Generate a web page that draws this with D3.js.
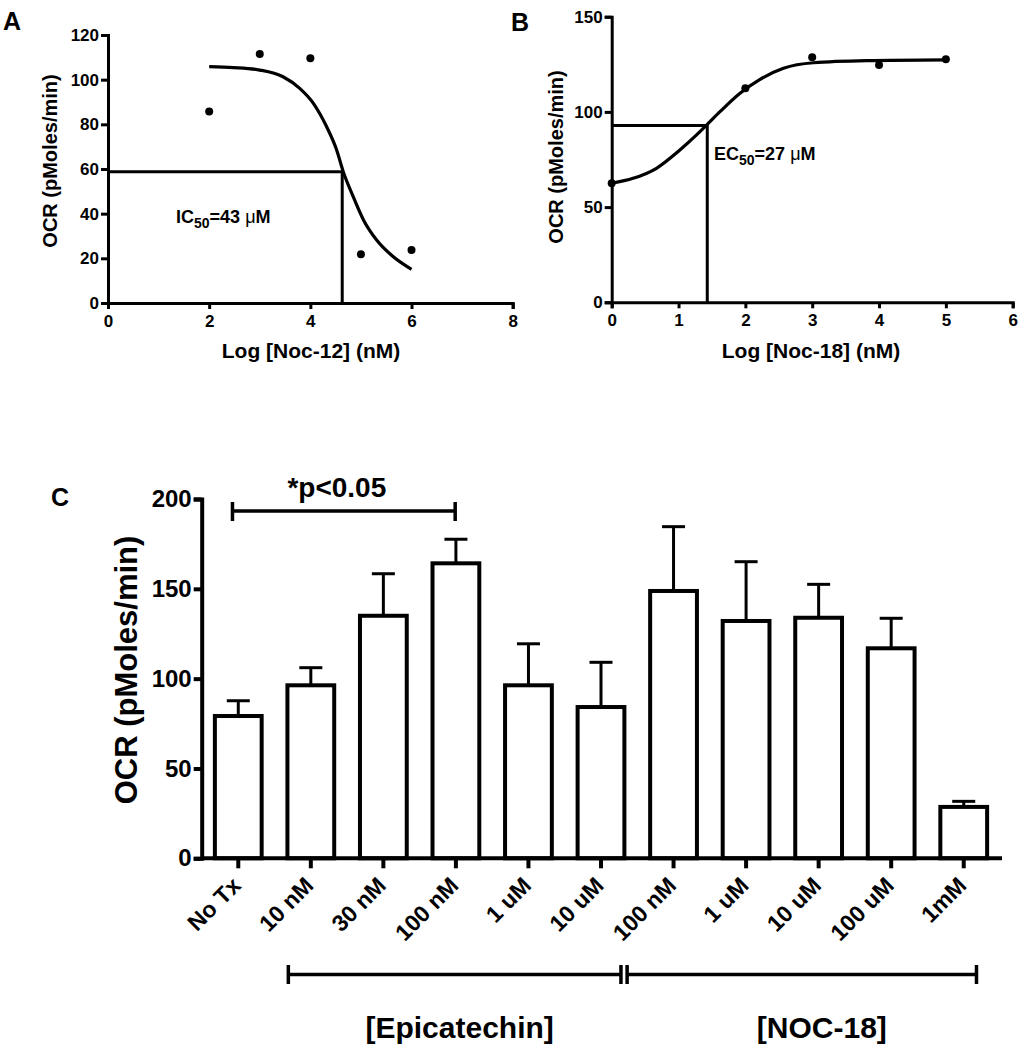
<!DOCTYPE html>
<html><head><meta charset="utf-8">
<script src="https://cdn.jsdelivr.net/npm/d3@7"></script>
<style>
body{margin:0;background:#fff}
text{font-family:"Liberation Sans",Arial,Helvetica,sans-serif;font-weight:bold;fill:#000}
</style>
</head><body>
<svg id="chart" width="1018" height="1050"></svg>
<script>
// ---------- Panel A data (Noc-12) ----------
const aDoseLog = [2, 3, 4, 5, 6];
const aOCR = [85.7, 111.5, 109.6, 21.8, 23.7];
const aFitX = [2.0, 2.48, 3.0, 3.46, 3.79, 4.06, 4.32, 4.52, 4.65, 4.82, 5.05, 5.31, 5.64, 6.0];
const aFitY = [105.8, 105.4, 104.3, 101.3, 96.1, 89.4, 79.0, 68.5, 58.8, 49.1, 37.2, 28.2, 20.7, 15.1];
const aIC50 = [4.63, 58.8];
const aXTicks = [0, 2, 4, 6, 8];
const aYTicks = [0, 20, 40, 60, 80, 100, 120];

// ---------- Panel B data (Noc-18) ----------
const bDoseLog = [0, 2, 3, 4, 5];
const bOCR = [62.5, 112.4, 128.7, 124.6, 127.6];
const bFitX = [0, 0.32, 0.67, 1.02, 1.27, 1.42, 1.62, 1.92, 2.22, 2.57, 3.02, 3.82, 4.99];
const bFitY = [62.5, 65.1, 70.4, 80.0, 87.9, 93.1, 100.1, 109.8, 117.1, 122.9, 125.8, 126.9, 127.3];
const bEC50 = [1.43, 92.8];
const bXTicks = [0, 1, 2, 3, 4, 5, 6];
const bYTicks = [0, 50, 100, 150];

// ---------- Panel C data ----------
const cCategories = ["No Tx", "10 nM", "30 nM", "100 nM", "1 uM", "10 uM", "100 nM", "1 uM", "10 uM", "100 uM", "1mM"];
const cMean = [79.2, 96.3, 135.0, 164.2, 96.3, 84.2, 148.8, 132.1, 133.9, 116.9, 28.6];
const cSEM = [8.5, 9.8, 23.4, 13.4, 23.1, 24.9, 35.8, 33.0, 18.6, 16.7, 3.1];
const cYTicks = [0, 50, 100, 150, 200];
const cGroups = ["[Epicatechin]", "[NOC-18]"];
const cGroupStart = [1, 6];
const cGroupEnd = [5, 10];

const svg = d3.select("#chart");
svg.append("rect").attr("width", 1018).attr("height", 1050).attr("fill", "#fff");

function styleAxis(g, w, fs) {
  g.select(".domain").attr("stroke", "#000").attr("stroke-width", w);
  g.selectAll(".tick line").attr("stroke", "#000").attr("stroke-width", w);
  g.selectAll(".tick text").attr("font-size", fs).attr("fill", "#000")
    .attr("font-family", '"Liberation Sans",Arial,sans-serif').attr("font-weight", "bold");
}
const fmt = d3.format("d");

// ================= Panel A =================
{
  const x = d3.scaleLinear().domain([0, 8]).range([108, 512.7]);
  const y = d3.scaleLinear().domain([0, 120]).range([303, 35]);
  const gx = svg.append("g").attr("transform", `translate(0,${y(0)})`)
    .call(d3.axisBottom(x).tickValues(aXTicks).tickFormat(fmt).tickSizeOuter(0).tickSize(6).tickPadding(6));
  styleAxis(gx, 3, 17);
  const gy = svg.append("g").attr("transform", `translate(${x(0)},0)`)
    .call(d3.axisLeft(y).tickValues(aYTicks).tickFormat(fmt).tickSizeOuter(0).tickSize(7).tickPadding(2));
  styleAxis(gy, 3, 17);

  svg.append("path").attr("fill", "none").attr("stroke", "#000").attr("stroke-width", 3)
    .attr("d", `M${x(0)},${y(aIC50[1])}H${x(aIC50[0])}V${y(0)}`);
  const line = d3.line().x((d, i) => x(aFitX[i])).y(d => y(d)).curve(d3.curveMonotoneX);
  svg.append("path").attr("fill", "none").attr("stroke", "#000").attr("stroke-width", 3.2)
    .attr("d", line(aFitY));
  svg.selectAll(".ptA").data(aOCR).enter().append("circle")
    .attr("cx", (d, i) => x(aDoseLog[i])).attr("cy", d => y(d)).attr("r", 4).attr("fill", "#000");

  svg.append("text").attr("x", 3).attr("y", 30).attr("font-size", 25).text("A");
  svg.append("text").attr("transform", `translate(57,161) rotate(-90)`).attr("text-anchor", "middle")
    .attr("font-size", 20).text("OCR (pMoles/min)");
  svg.append("text").attr("x", 311).attr("y", 358).attr("text-anchor", "middle")
    .attr("font-size", 21).text("Log [Noc-12] (nM)");
  const t = svg.append("text").attr("x", 176).attr("y", 223).attr("font-size", 18);
  t.append("tspan").text("IC");
  t.append("tspan").attr("font-size", 14).attr("dy", 5).text("50");
  t.append("tspan").attr("dy", -5).text("=43 ");
  t.append("tspan").attr("font-weight", "normal").text("μ");
  t.append("tspan").text("M");
}

// ================= Panel B =================
{
  const x = d3.scaleLinear().domain([0, 6]).range([611.7, 1012.7]);
  const y = d3.scaleLinear().domain([0, 150]).range([302.3, 16.7]);
  const gx = svg.append("g").attr("transform", `translate(0,${y(0)})`)
    .call(d3.axisBottom(x).tickValues(bXTicks).tickFormat(fmt).tickSizeOuter(0).tickSize(6).tickPadding(6));
  styleAxis(gx, 3, 17);
  const gy = svg.append("g").attr("transform", `translate(${x(0)},0)`)
    .call(d3.axisLeft(y).tickValues(bYTicks).tickFormat(fmt).tickSizeOuter(0).tickSize(7).tickPadding(2));
  styleAxis(gy, 3, 17);

  svg.append("path").attr("fill", "none").attr("stroke", "#000").attr("stroke-width", 3)
    .attr("d", `M${x(0)},${y(bEC50[1])}H${x(bEC50[0])}V${y(0)}`);
  const line = d3.line().x((d, i) => x(bFitX[i])).y(d => y(d)).curve(d3.curveMonotoneX);
  svg.append("path").attr("fill", "none").attr("stroke", "#000").attr("stroke-width", 3.2)
    .attr("d", line(bFitY));
  svg.selectAll(".ptB").data(bOCR).enter().append("circle")
    .attr("cx", (d, i) => x(bDoseLog[i])).attr("cy", d => y(d)).attr("r", 4).attr("fill", "#000");

  svg.append("text").attr("x", 511).attr("y", 31).attr("font-size", 25).text("B");
  svg.append("text").attr("transform", `translate(563,157) rotate(-90)`).attr("text-anchor", "middle")
    .attr("font-size", 20).text("OCR (pMoles/min)");
  svg.append("text").attr("x", 811).attr("y", 358).attr("text-anchor", "middle")
    .attr("font-size", 21).text("Log [Noc-18] (nM)");
  const t = svg.append("text").attr("x", 714).attr("y", 160).attr("font-size", 18);
  t.append("tspan").text("EC");
  t.append("tspan").attr("font-size", 14).attr("dy", 5).text("50");
  t.append("tspan").attr("dy", -5).text("=27 ");
  t.append("tspan").attr("font-weight", "normal").text("μ");
  t.append("tspan").text("M");
}

// ================= Panel C =================
{
  const idx = cCategories.map((d, i) => i);
  const x = d3.scaleBand().domain(idx).range([202, 1000]).padding(0);
  const y = d3.scaleLinear().domain([0, 200]).range([858.3, 499]);
  const bw = x.bandwidth() * 0.7;

  const eb = svg.append("g");
  idx.forEach(i => {
    const cx = x(i) + x.bandwidth() / 2;
    eb.append("line").attr("x1", cx).attr("x2", cx).attr("y1", y(cMean[i])).attr("y2", y(cMean[i] + cSEM[i]))
      .attr("stroke", "#000").attr("stroke-width", 3);
    eb.append("line").attr("x1", cx - 11.5).attr("x2", cx + 11.5).attr("y1", y(cMean[i] + cSEM[i])).attr("y2", y(cMean[i] + cSEM[i]))
      .attr("stroke", "#000").attr("stroke-width", 3);
  });
  svg.selectAll(".bar").data(cMean).enter().append("rect")
    .attr("x", (d, i) => x(i) + (x.bandwidth() - bw) / 2 + 2)
    .attr("width", bw - 4)
    .attr("y", d => y(d))
    .attr("height", d => y(0) - y(d))
    .attr("fill", "#fff").attr("stroke", "#000").attr("stroke-width", 4);

  const gx = svg.append("g").attr("transform", `translate(0,${y(0)})`)
    .call(d3.axisBottom(x).tickSizeOuter(0).tickSize(10).tickFormat(""));
  gx.select(".domain").attr("stroke", "#000").attr("stroke-width", 4).attr("d", `M202,0H1002`);
  gx.selectAll(".tick line").attr("stroke", "#000").attr("stroke-width", 4);
  const gy = svg.append("g").attr("transform", `translate(201.7,0)`)
    .call(d3.axisLeft(y).tickValues(cYTicks).tickSizeOuter(0).tickSize(8).tickPadding(2));
  styleAxis(gy, 4, 24);

  svg.selectAll(".xl").data(cCategories).enter().append("text")
    .attr("transform", (d, i) => `translate(${x(i) + x.bandwidth() / 2 + 4},887) rotate(-45)`)
    .attr("text-anchor", "end").attr("font-size", 23).text(d => d);

  const sx1 = x(0) + x.bandwidth() * 0.42, sx2 = x(3) + x.bandwidth() * 0.49;
  svg.append("path").attr("fill", "none").attr("stroke", "#000").attr("stroke-width", 3.5)
    .attr("d", `M${sx1},502V521M${sx1},511H${sx2}M${sx2},502V521`);
  svg.append("text").attr("x", (sx1 + sx2) / 2 - 7).attr("y", 497).attr("text-anchor", "middle")
    .attr("font-size", 28).text("*p<0.05");

  const gOff0 = [0.19, -0.14], gOff1 = [0.775, 0.676], labelShift = [5, 20];
  cGroups.forEach((g, k) => {
    const x1 = x(cGroupStart[k]) + x.bandwidth() * gOff0[k];
    const x2 = x(cGroupEnd[k]) + x.bandwidth() * gOff1[k];
    svg.append("path").attr("fill", "none").attr("stroke", "#000").attr("stroke-width", 3.5)
      .attr("d", `M${x1},965V984M${x1},974.5H${x2}M${x2},965V984`);
    svg.append("text").attr("x", (x1 + x2) / 2 + labelShift[k]).attr("y", 1038).attr("text-anchor", "middle")
      .attr("font-size", 30).text(g);
  });

  svg.append("text").attr("x", 51).attr("y", 506).attr("font-size", 25).text("C");
  svg.append("text").attr("transform", `translate(137,670) rotate(-90)`).attr("text-anchor", "middle")
    .attr("font-size", 31).text("OCR (pMoles/min)");
}
</script>
</body></html>
